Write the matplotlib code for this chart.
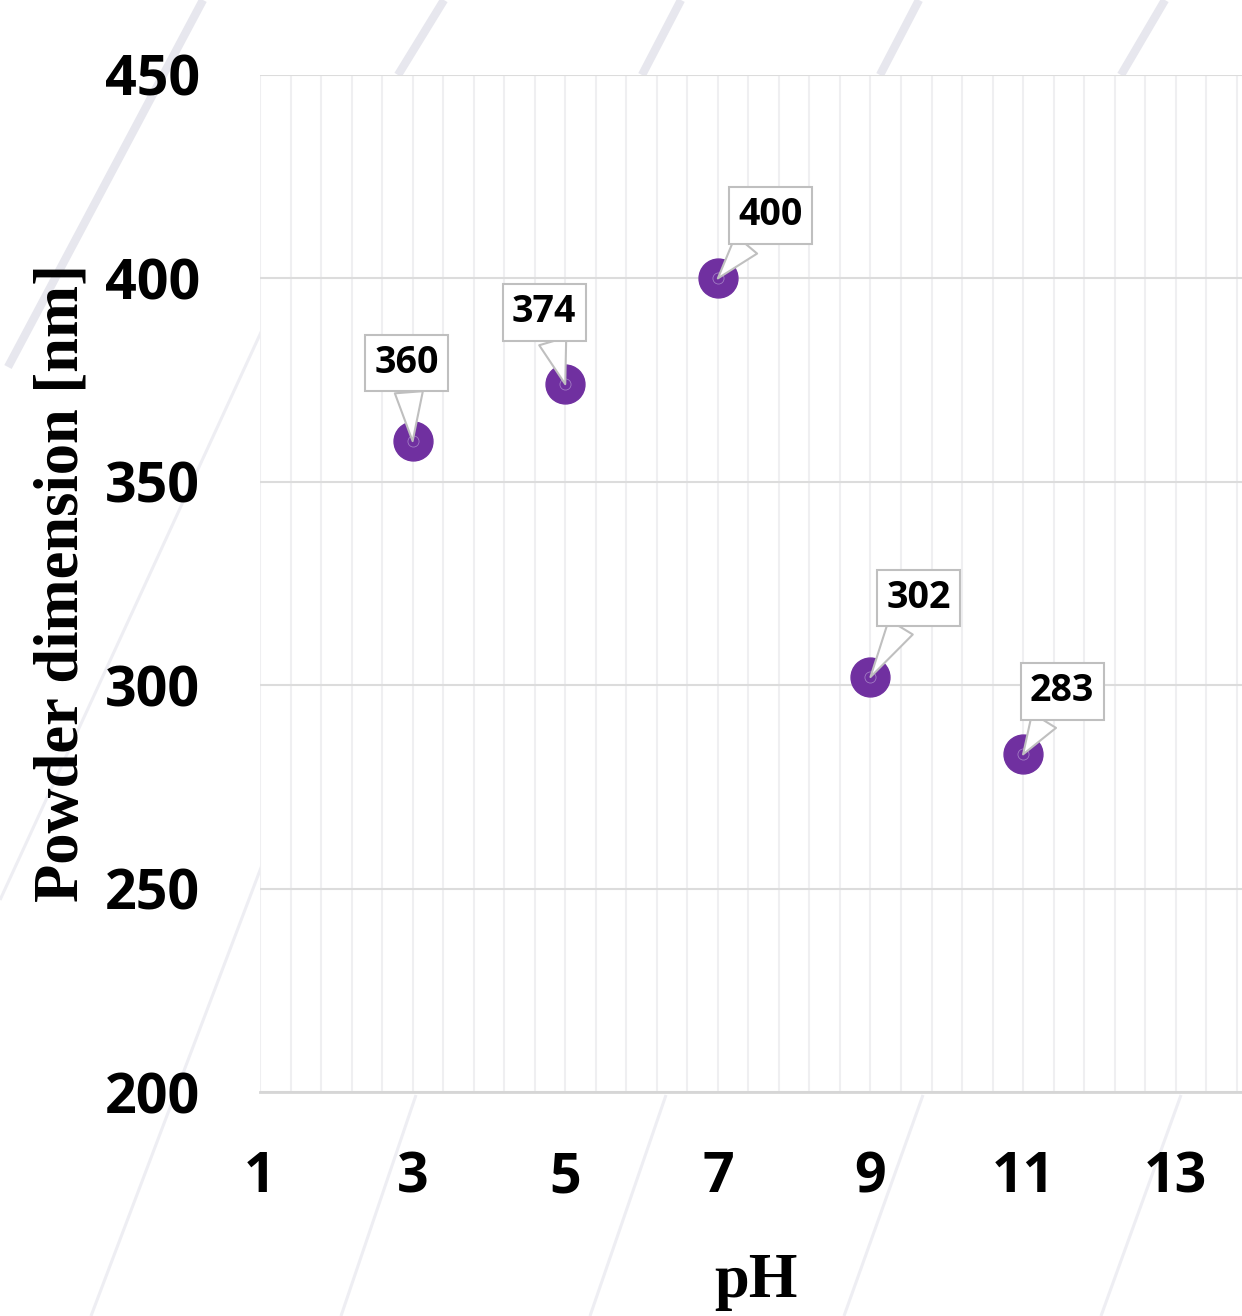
import numpy as np
import matplotlib
matplotlib.use("Agg")
import matplotlib.pyplot as plt
from matplotlib.lines import Line2D

# data
ph = [3, 5, 7, 9, 11]
size_nm = [360, 374, 400, 302, 283]
# callout box offsets from the point (pixels, x right / y up)
label_dx = [-6, -21, 53, 48, 39]
label_dy = [78, 72, 63, 79, 63]

x_ticks = [1, 3, 5, 7, 9, 11, 13]
y_ticks = [200, 250, 300, 350, 400, 450]

W, H = 1242, 1316
fig = plt.figure(figsize=(W / 100, H / 100), dpi=100)
fig.patch.set_facecolor("white")

# faint decorative stripes behind the chart (figure pixel coords, y down)
thick = [((203, 0), (8, 367)), ((444, 0), (398, 75)), ((681, 0), (642, 75)),
         ((919, 0), (880, 75)), ((1165, 0), (1121, 75))]
thin = [((262, 330), (0, 900)), ((262, 865), (91, 1316)), ((416, 1095), (341, 1316)),
        ((666, 1095), (590, 1316)), ((923, 1095), (844, 1316)), ((1181, 1095), (1101, 1316))]
for (x0, y0), (x1, y1) in thick:
    fig.add_artist(Line2D([x0 / W, x1 / W], [1 - y0 / H, 1 - y1 / H], transform=fig.transFigure,
                          color="#e7e7ee", linewidth=6, zorder=-1, solid_capstyle="butt"))
for (x0, y0), (x1, y1) in thin:
    fig.add_artist(Line2D([x0 / W, x1 / W], [1 - y0 / H, 1 - y1 / H], transform=fig.transFigure,
                          color="#eeeef3", linewidth=2.2, zorder=-1, solid_capstyle="butt"))

# axes: x=1 at px 260, x=14 at px 1252; y=450 at px 75, y=200 at px 1092
ax = fig.add_axes([260 / W, 1 - 1092 / H, (1252 - 260) / W, (1092 - 75) / H])
ax.set_facecolor("white")
ax.set_xlim(1, 14)
ax.set_ylim(200, 450)

ax.set_xticks(x_ticks)
ax.set_xticks(np.arange(1, 14, 0.4), minor=True)
ax.set_yticks(y_ticks)
ax.grid(which="minor", axis="x", color="#efeff1", linewidth=1.5)
ax.grid(which="major", axis="x", color="#efeff1", linewidth=1.5)
ax.grid(which="major", axis="y", color="#dcdcdc", linewidth=1.5)
ax.set_axisbelow(True)
for s in ["top", "right", "left"]:
    ax.spines[s].set_visible(False)
ax.spines["bottom"].set_color("#d6d6d6")
ax.spines["bottom"].set_linewidth(2)
ax.tick_params(which="both", length=0)
ax.tick_params(axis="y", pad=43)
ax.tick_params(axis="x", pad=42)

tick_font = dict(family="Open Sans", weight="bold", size=40)
ax.set_xticklabels([str(t) for t in x_ticks], **tick_font)
ax.set_yticklabels([str(t) for t in y_ticks], **tick_font)

ax.set_ylabel("Powder dimension [nm]", family="Liberation Serif", weight="bold", size=45, labelpad=10)
ax.set_xlabel("pH", family="Liberation Serif", weight="bold", size=45, labelpad=34)

ax.plot(ph, size_nm, linestyle="none", marker="o", markersize=28,
        markerfacecolor="#7030a0", markeredgecolor="#7030a0", zorder=3)
ax.plot(ph, size_nm, linestyle="none", marker="o", markersize=8,
        markerfacecolor="none", markeredgecolor="#a27cc4", markeredgewidth=0.6, zorder=3)

for x, y, dx, dy in zip(ph, size_nm, label_dx, label_dy):
    ax.annotate(str(y), xy=(x, y), xytext=(dx, dy), textcoords="offset pixels",
                ha="center", va="center", family="Open Sans", weight="bold", size=27,
                bbox=dict(boxstyle="square,pad=0.25", fc="white", ec="#bfbfbf", lw=1.5),
                arrowprops=dict(arrowstyle="wedge,tail_width=0.75", fc="white", ec="#bfbfbf",
                                lw=1.5, shrinkA=0, shrinkB=0),
                zorder=4)

fig.savefig("out.png", dpi=100)
